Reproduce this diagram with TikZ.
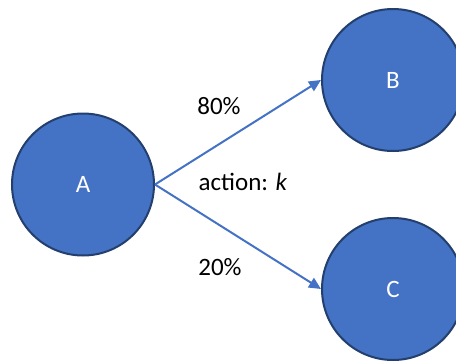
\documentclass[tikz,border=0pt]{standalone}
\usepackage{fontspec}
\setmainfont{Carlito}
\usetikzlibrary{arrows.meta}
\definecolor{fillblue}{HTML}{4472C4}
\definecolor{edgeblue}{HTML}{223F6E}
\tikzset{
  state/.style={circle, fill=fillblue, draw=edgeblue, line width=2pt, minimum size=142pt, inner sep=0pt, text=white, font=\fontsize{25}{30}\selectfont},
  link/.style={draw=fillblue, line width=2pt, -{Triangle[length=12pt,width=11pt]}},
  lbl/.style={font=\fontsize{25}{30}\selectfont, text=black}
}
\begin{document}
\begin{tikzpicture}[x=1pt,y=-1pt]
\useasboundingbox (0,0) rectangle (456,362);
\node[state] (A) at (83,184.5) {A};
\node[state] (B) at (393,80) {B};
\node[state] (C) at (393,289) {C};
\draw[link] (A.east) -- (B.west);
\draw[link] (A.east) -- (C.west);
\node[lbl] (p80) at (219,106) {80\%};
\node[lbl] (act) at (243,182) {action: \textit{k}};
\node[lbl] (p20) at (220,267) {20\%};
\end{tikzpicture}
\end{document}
